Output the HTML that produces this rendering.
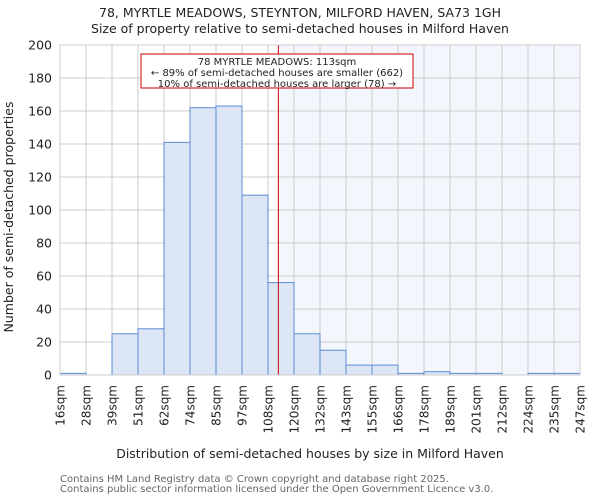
<!DOCTYPE html>
<html><head><meta charset="utf-8"><style>
body{margin:0;background:#fff;}
svg{display:block;font-family:"DejaVu Sans","Liberation Sans",sans-serif;}
</style></head><body>
<svg id="chart" width="600" height="500">
<text x="300" y="17" text-anchor="middle" font-size="12.5" fill="#222">78, MYRTLE MEADOWS, STEYNTON, MILFORD HAVEN, SA73 1GH</text>
<text x="300" y="33" text-anchor="middle" font-size="12.5" fill="#222">Size of property relative to semi-detached houses in Milford Haven</text>
<g id="plot"></g>
<text x="310" y="458" text-anchor="middle" font-size="12.5" fill="#222">Distribution of semi-detached houses by size in Milford Haven</text>
<text transform="translate(13,217) rotate(-90)" text-anchor="middle" font-size="12.5" fill="#222">Number of semi-detached properties</text>
<text x="60" y="482" font-size="10" fill="#666">Contains HM Land Registry data © Crown copyright and database right 2025.</text>
<text x="60" y="492" font-size="10" fill="#666">Contains public sector information licensed under the Open Government Licence v3.0.</text>
</svg>
<script>
const categories=["16sqm","28sqm","39sqm","51sqm","62sqm","74sqm","85sqm","97sqm","108sqm","120sqm","132sqm","143sqm","155sqm","166sqm","178sqm","189sqm","201sqm","212sqm","224sqm","235sqm","247sqm"];
const counts=[1,0,25,28,141,162,163,109,56,25,15,6,6,1,2,1,1,0,1,1];
const yTicks=[0,20,40,60,80,100,120,140,160,180,200];
const binStart=16, binWidth=11.55;
const propertySize=113;
const NS="http://www.w3.org/2000/svg";
const X0=60,X1=580,Y0=375,Y1=45,YMAX=200;
const nb=counts.length;
const xs=v=>X0+(v-binStart)/(binWidth*nb)*(X1-X0);
const xb=i=>X0+i*(X1-X0)/nb;
const ys=v=>Y0-v/YMAX*(Y0-Y1);
const g=document.getElementById('plot');
function mk(t,a){const e=document.createElementNS(NS,t);for(const k in a)e.setAttribute(k,a[k]);g.appendChild(e);return e;}
const px=xs(propertySize);
let e=mk('rect',{x:px,y:Y1,width:X1-px,height:Y0-Y1,fill:'#f3f6fd'});


for(let i=0;i<=nb;i++){e=mk('line',{x1:xb(i),x2:xb(i),y1:Y1,y2:Y0,stroke:'#ccc','stroke-width':1});

}
yTicks.forEach(t=>{e=mk('line',{x1:X0,x2:X1,y1:ys(t),y2:ys(t),stroke:'#ccc','stroke-width':1});


e=mk('text',{x:X0-8,y:ys(t)+4.5,'text-anchor':'end','font-size':12.5,fill:'#222'});e.textContent=t;

});
counts.forEach((c,i)=>{e=mk('rect',{x:xb(i),y:ys(c),width:xb(i+1)-xb(i),height:Y0-ys(c),fill:'#dce6f4',stroke:'#5b8bd6','stroke-width':1});

});
categories.forEach((c,i)=>{e=mk('text',{transform:`translate(${xb(i)+4.5},385) rotate(-90)`,'text-anchor':'end','font-size':12,fill:'#222'});e.textContent=c;

});
e=mk('line',{x1:px,x2:px,y1:Y1,y2:Y0,stroke:'#cc0000','stroke-width':1});


e=mk('rect',{x:141,y:54,width:272,height:34,fill:'#fff',stroke:'#cc0000','stroke-width':1});


["78 MYRTLE MEADOWS: 113sqm","← 89% of semi-detached houses are smaller (662)","10% of semi-detached houses are larger (78) →"].forEach((s,i)=>{
e=mk('text',{x:277,y:65+i*11,'text-anchor':'middle','font-size':10,fill:'#222'});e.textContent=s;

});
e=mk('rect',{x:X0,y:Y1,width:X1-X0,height:Y0-Y1,fill:'none',stroke:'#ccc'});


</script>
</body></html>
